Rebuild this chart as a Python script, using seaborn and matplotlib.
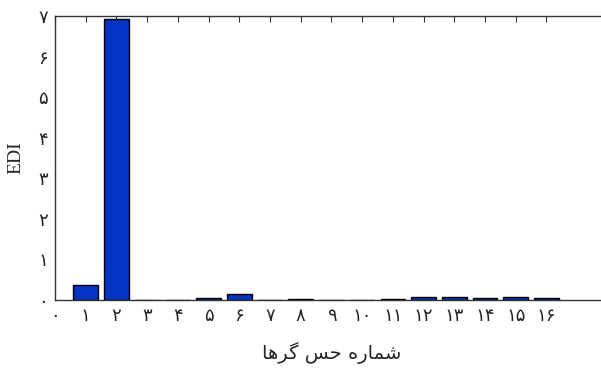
import matplotlib
matplotlib.use('Agg')
import matplotlib.pyplot as plt
import seaborn as sns

# Data
sensors = list(range(1, 17))
edi = [0.37, 6.92, 0.01, 0.01, 0.05, 0.14, 0.01, 0.03,
       0.01, 0.01, 0.03, 0.08, 0.08, 0.05, 0.07, 0.06]

x_ticks = list(range(0, 17))
x_labels = ['۰', '۱', '۲', '۳', '۴', '۵', '۶', '۷', '۸', '۹',
            '۱۰', '۱۱', '۱۲', '۱۳', '۱۴', '۱۵', '۱۶']
y_ticks = list(range(0, 8))
y_labels = ['۰', '۱', '۲', '۳', '۴', '۵', '۶', '۷']

# "شماره حس گرها" written in shaped (presentation) forms, visual order,
# because matplotlib does not do Arabic shaping / bidi itself
x_title = ''.join(reversed('\uFEB7\uFEE4\uFE8E\uFEAD\uFEE9 \uFEA3\uFEB2 \uFB94\uFEAE\uFEEB\uFE8E'))

sns.set_style('white')
plt.rcParams['font.family'] = ['DejaVu Sans']

fig = plt.figure(figsize=(6.01, 3.70), dpi=100)
ax = fig.add_axes([0.0915, 0.189, 0.92, 0.768])

sns.barplot(x=sensors, y=edi, native_scale=True, width=0.8,
            color='#0434c4', saturation=1, edgecolor='black',
            linewidth=1.0, ax=ax)

ax.set_xlim(0, 18)
ax.set_ylim(0, 7)
ax.set_xticks(x_ticks)
ax.set_xticklabels(x_labels, fontsize=13)
ax.set_yticks(y_ticks)
ax.set_yticklabels(y_labels, fontsize=13)

ax.tick_params(direction='in', length=4, width=0.8, top=True, right=True,
               color='#333333', pad=5)

for s in ax.spines.values():
    s.set_visible(True)
    s.set_color('#333333')
    s.set_linewidth(1.0)

ax.set_ylabel('EDI', fontsize=14, family='Liberation Serif', labelpad=10)
ax.set_xlabel(x_title, fontsize=14, family='DejaVu Sans', labelpad=12)

fig.savefig('out.png', dpi=100)
